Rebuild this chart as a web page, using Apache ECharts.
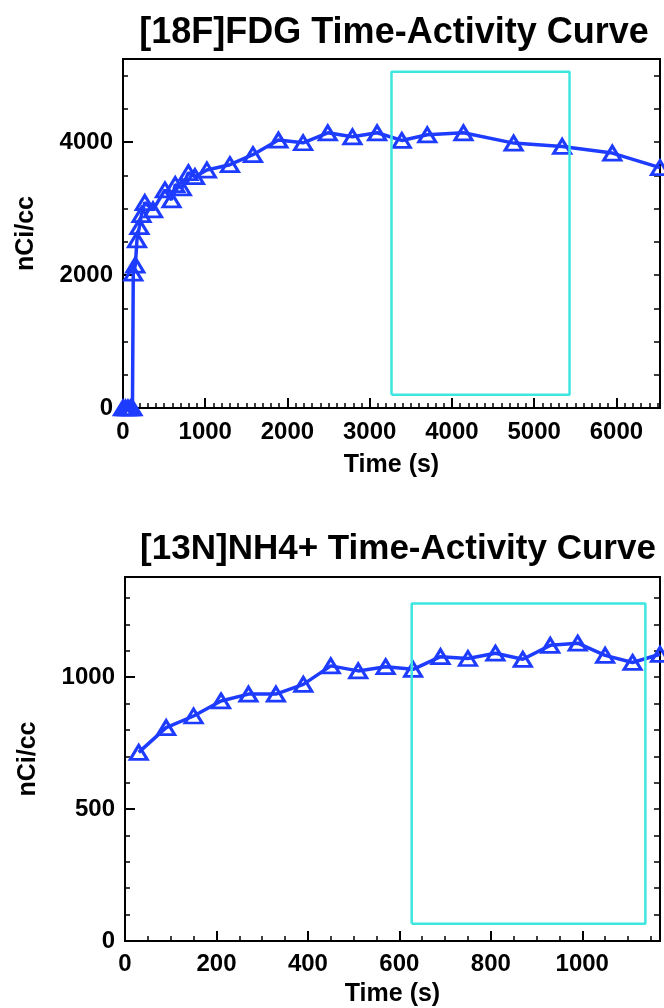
<!DOCTYPE html>
<html>
<head>
<meta charset="utf-8">
<script src="https://cdn.jsdelivr.net/npm/echarts@6/dist/echarts.min.js"></script>
<style>
html,body{margin:0;padding:0;background:#fff;}
#chart{width:664px;height:1008px;}
</style>
</head>
<body>
<div id="chart"></div>
<script>
// ---- Data: [18F]FDG ----
const fdgTime  = [0, 30, 60, 90, 115, 125, 150, 170, 200, 225, 265, 365, 510, 590, 635, 715, 795, 875, 1020, 1300, 1580, 1890, 2190, 2490, 2790, 3090, 3390, 3700, 4140, 4750, 5340, 5950, 6530];
const fdgValue = [0, 0, 0, 0, 0, 2030, 2150, 2530, 2730, 2910, 3090, 2980, 3280, 3130, 3360, 3310, 3540, 3480, 3580, 3660, 3810, 4030, 3990, 4140, 4080, 4140, 4025, 4110, 4140, 3985, 3935, 3835, 3615];
const fdgWindowX = [3265, 5430];
const fdgWindowY = [200, 5060];
const fdgXRange = [0, 6530];
const fdgYRange = [0, 5250];
const fdgXTicks = [1000, 100];   // major, minor
const fdgYTicks = [2000, 500];

// ---- Data: [13N]NH4+ ----
const nh4Time  = [30, 90, 150, 210, 270, 330, 390, 450, 510, 570, 630, 690, 750, 810, 870, 930, 990, 1050, 1110, 1170];
const nh4Value = [715, 809, 853, 910, 936, 936, 973, 1043, 1024, 1040, 1030, 1078, 1071, 1091, 1068, 1121, 1129, 1083, 1056, 1087];
const nh4WindowX = [627, 1138];
const nh4WindowY = [65, 1280];
const nh4XRange = [0, 1170];
const nh4YRange = [0, 1380];
const nh4XTicks = [200, 50];
const nh4YTicks = [500, 100];

const titles = ['[18F]FDG Time-Activity Curve', '[13N]NH4+ Time-Activity Curve'];
const xName = 'Time (s)';
const yName = 'nCi/cc';

const BLUE = '#1e3cff';
const CYAN = '#3ee6e0';
const FONT = 'Liberation Sans';

const zip = (a, b) => a.map((v, i) => [v, b[i]]);
const rect = (xs, ys) => [[xs[0], ys[0]], [xs[1], ys[0]], [xs[1], ys[1]], [xs[0], ys[1]], [xs[0], ys[0]]];

const grids = [
  {left: 123, right: 4, top: 59, height: 349},
  {left: 125, right: 4, top: 577, height: 365}
];
const cfg = [
  {xr: fdgXRange, yr: fdgYRange, xt: fdgXTicks, yt: fdgYTicks, t: fdgTime, v: fdgValue, wx: fdgWindowX, wy: fdgWindowY},
  {xr: nh4XRange, yr: nh4YRange, xt: nh4XTicks, yt: nh4YTicks, t: nh4Time, v: nh4Value, wx: nh4WindowX, wy: nh4WindowY}
];

const labelStyle = {color: '#000', fontFamily: FONT, fontWeight: 'bold', fontSize: 24};
const nameStyle = {color: '#000', fontFamily: FONT, fontWeight: 'bold', fontSize: 25};
const plain = v => String(v);

const xAxis = [], yAxis = [], series = [];
cfg.forEach((c, g) => {
  const xi = xAxis.length, yi = yAxis.length;
  xAxis.push({
    type: 'value', gridIndex: g, position: 'bottom', min: c.xr[0], max: c.xr[1], interval: c.xt[0],
    axisLine: {show: false, onZero: false},
    axisTick: {show: true, inside: true, length: 10, lineStyle: {color: '#000', width: 2}},
    axisLabel: {show: true, margin: g === 0 ? 12 : 11, showMaxLabel: false, formatter: plain, ...labelStyle},
    splitLine: {show: false},
    name: xName, nameLocation: 'middle', nameGap: g === 0 ? 45 : 41, nameTextStyle: nameStyle
  });
  xAxis.push({
    type: 'value', gridIndex: g, position: 'bottom', min: c.xr[0], max: c.xr[1], interval: c.xt[1],
    axisLine: {show: false, onZero: false},
    axisTick: {show: true, inside: true, length: 5, lineStyle: {color: '#000', width: 1.5}},
    axisLabel: {show: false}, splitLine: {show: false}
  });
  yAxis.push({
    type: 'value', gridIndex: g, position: 'left', min: c.yr[0], max: c.yr[1], interval: c.yt[0],
    axisLine: {show: false, onZero: false},
    axisTick: {show: true, inside: true, length: 10, lineStyle: {color: '#000', width: 2}},
    axisLabel: {show: true, margin: 10, showMaxLabel: false, formatter: plain, ...labelStyle},
    splitLine: {show: false},
    name: yName, nameLocation: 'middle', nameGap: 84, nameTextStyle: nameStyle
  });
  yAxis.push({
    type: 'value', gridIndex: g, position: 'left', min: c.yr[0], max: c.yr[1], interval: c.yt[1],
    axisLine: {show: false, onZero: false},
    axisTick: {show: true, inside: true, length: 5, lineStyle: {color: '#000', width: 1.5}},
    axisLabel: {show: false}, splitLine: {show: false}
  });
  yAxis.push({
    type: 'value', gridIndex: g, position: 'right', min: c.yr[0], max: c.yr[1], interval: c.yt[1],
    axisLine: {show: false, onZero: false},
    axisTick: {show: true, inside: true, length: 6, lineStyle: {color: '#000', width: 1.5}},
    axisLabel: {show: false}, splitLine: {show: false}
  });
  series.push({
    type: 'line', xAxisIndex: xi, yAxisIndex: yi, data: zip(c.t, c.v),
    symbol: 'triangle', symbolSize: [17, 14], showAllSymbol: true, clip: false,
    lineStyle: {color: BLUE, width: 3.5},
    itemStyle: {color: 'rgba(255,255,255,0)', borderColor: BLUE, borderWidth: 3},
    z: 3, animation: false
  });
  series.push({
    type: 'line', xAxisIndex: xi, yAxisIndex: yi, data: rect(c.wx, c.wy),
    symbol: 'none', lineStyle: {color: CYAN, width: 2.5}, clip: false, z: 5, animation: false
  });
});

const chart = echarts.init(document.getElementById('chart'), null, {renderer: 'canvas'});
chart.setOption({
  animation: false,
  backgroundColor: '#fff',
  title: [
    {text: titles[0], left: 389, top: 10, textAlign: 'center',
     textStyle: {fontFamily: FONT, fontWeight: 'bold', fontSize: 36, color: '#000'}},
    {text: titles[1], left: 393, top: 527, textAlign: 'center',
     textStyle: {fontFamily: FONT, fontWeight: 'bold', fontSize: 35, color: '#000'}}
  ],
  grid: grids.map(g => ({...g, show: true, borderColor: '#000', borderWidth: 2, backgroundColor: 'transparent'})),
  xAxis, yAxis, series
});
</script>
</body>
</html>
